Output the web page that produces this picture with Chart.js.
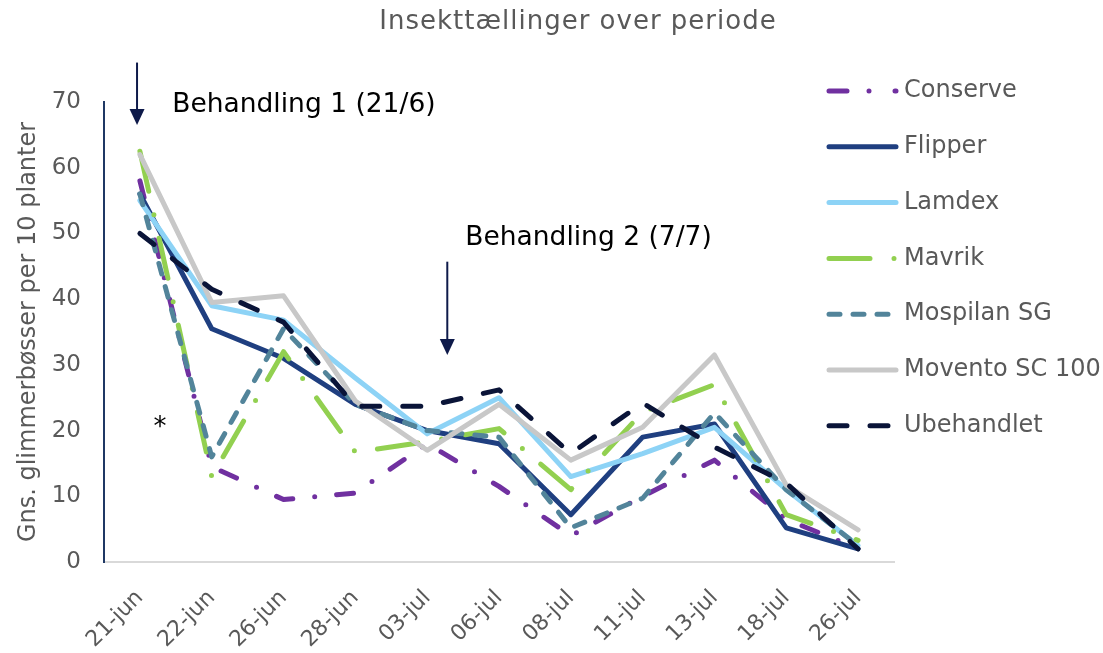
<!DOCTYPE html>
<html>
<head>
<meta charset="utf-8">
<script src="https://cdn.jsdelivr.net/npm/chart.js@4"></script>
<style>
  html, body { margin: 0; padding: 0; background: #fff; }
  #wrap { width: 1103px; height: 653px; position: relative; }
</style>
</head>
<body>
<div id="wrap"><canvas id="insektChart"></canvas></div>
<script>
const labels = ['21-jun', '22-jun', '26-jun', '28-jun', '03-jul', '06-jul', '08-jul', '11-jul', '13-jul', '18-jul', '26-jul'];
const conserve   = [58, 14.5, 9.5, 10.5, 18, 11.5, 4, 10, 15.5, 6.5, 2];
const flipper    = [56, 35.5, 31, 24, 20, 18, 7.2, 19, 21, 5.2, 2];
const lamdex     = [55, 39, 36.8, 28, 19.5, 25, 13, 16.5, 20.5, 11, 2.5];
const mavrik     = [62.5, 13, 32, 16.7, 18.3, 20.3, 11, 22.8, 27, 7.2, 3.3];
const mospilan   = [56, 16, 35.5, 24, 20, 19, 5.2, 9.7, 22.7, 11, 2.5];
const movento    = [62, 39.5, 40.5, 24.5, 17, 24, 15.5, 20.5, 31.5, 11.7, 4.9];
const ubehandlet = [50, 41.5, 36.5, 23.7, 23.7, 26.2, 16.5, 24.2, 17.5, 12, 2];
const yTicks = [0, 10, 20, 30, 40, 50, 60, 70];

const FONT = "'DejaVu Sans', sans-serif";
const GREY = '#595959';

function serie(label, data, color, dash, legendDash) {
    return {
        label: label,
        data: data,
        borderColor: color,
        backgroundColor: color,
        borderWidth: 5,
        borderDash: dash,
        legendDash: legendDash || dash,
        borderCapStyle: 'round',
        borderJoinStyle: 'round',
        pointRadius: 0,
        tension: 0,
        fill: false
    };
}

const datasets = [
    serie('Conserve', conserve, '#7030A0', [17, 22, 0, 22], [18, 22, 0, 26]),
    serie('Flipper', flipper, '#1F3F80', []),
    serie('Lamdex', lamdex, '#8DD3F6', []),
    serie('Mavrik', mavrik, '#92D050', [41, 24, 0, 24]),
    serie('Mospilan SG', mospilan, '#52849A', [11, 13]),
    serie('Movento SC 100', movento, '#C8C8C8', []),
    serie('Ubehandlet', ubehandlet, '#0A1438', [18, 23])
];
// senere serier tegnes øverst
datasets.forEach((d, i) => { d.order = datasets.length - i; });

function arrow(ctx, x, y1, y2) {
    ctx.save();
    ctx.strokeStyle = '#0E1A4A';
    ctx.fillStyle = '#0E1A4A';
    ctx.lineWidth = 2;
    ctx.beginPath();
    ctx.moveTo(x, y1);
    ctx.lineTo(x, y2 - 14);
    ctx.stroke();
    ctx.beginPath();
    ctx.moveTo(x - 7.5, y2 - 16);
    ctx.lineTo(x + 7.5, y2 - 16);
    ctx.lineTo(x, y2);
    ctx.closePath();
    ctx.fill();
    ctx.restore();
}

const overlay = {
    id: 'overlay',
    afterDraw(chart) {
        const ctx = chart.ctx;
        const x = chart.scales.x;
        const y = chart.scales.y;
        ctx.save();

        // titel
        ctx.fillStyle = GREY;
        ctx.font = '26px ' + FONT;
        ctx.letterSpacing = '1px';
        ctx.textAlign = 'center';
        ctx.textBaseline = 'middle';
        ctx.fillText('Insekttællinger over periode', 578, 22);
        ctx.letterSpacing = '0px';

        // behandlinger
        ctx.fillStyle = '#000';
        ctx.textAlign = 'left';
        ctx.font = '26.5px ' + FONT;
        ctx.fillText('Behandling 1 (21/6)', x.getPixelForValue(0.45), y.getPixelForValue(69.5));
        ctx.fillText('Behandling 2 (7/7)', x.getPixelForValue(4.53), y.getPixelForValue(49.3));
        arrow(ctx, x.getPixelForValue(-0.04), y.getPixelForValue(76), y.getPixelForValue(66.5));
        arrow(ctx, x.getPixelForValue(4.28), y.getPixelForValue(45.7), y.getPixelForValue(31.5));
        ctx.font = '26px ' + FONT;
        ctx.textAlign = 'center';
        ctx.fillText('*', x.getPixelForValue(0.28), y.getPixelForValue(20.3));

        // forklaring
        chart.data.datasets.forEach((d, i) => {
            const cy = 91 + i * 55.8;
            ctx.strokeStyle = d.borderColor;
            ctx.lineWidth = d.borderWidth;
            ctx.lineCap = 'round';
            ctx.setLineDash(d.legendDash);
            ctx.beginPath();
            ctx.moveTo(829, cy);
            ctx.lineTo(896, cy);
            ctx.stroke();
            ctx.setLineDash([]);
            ctx.fillStyle = GREY;
            ctx.font = '24px ' + FONT;
            ctx.textAlign = 'left';
            ctx.fillText(d.label, 904, cy);
        });
        ctx.restore();
    }
};

new Chart(document.getElementById('insektChart'), {
    type: 'line',
    data: { labels: labels, datasets: datasets },
    options: {
        responsive: true,
        maintainAspectRatio: false,
        animation: false,
        layout: { padding: { top: 102, right: 209, left: 0, bottom: 0 } },
        scales: {
            x: {
                offset: true,
                grid: { display: false, drawTicks: false },
                border: { color: '#D9D9D9', width: 2 },
                ticks: {
                    color: GREY,
                    font: { family: FONT, size: 22 },
                    maxRotation: 45,
                    minRotation: 45,
                    padding: 23
                },
                afterFit(scale) { scale.height = 91; }
            },
            y: {
                min: 0,
                max: 70,
                afterBuildTicks(scale) { scale.ticks = yTicks.map(v => ({ value: v })); },
                grid: { display: false, drawTicks: false },
                border: { color: '#1F3864', width: 2 },
                ticks: {
                    color: GREY,
                    font: { family: FONT, size: 23 },
                    padding: 23
                },
                title: {
                    display: true,
                    text: 'Gns. glimmerbøsser per 10 planter',
                    color: GREY,
                    font: { family: FONT, size: 24 },
                    padding: { top: 14, bottom: 0 }
                },
                afterFit(scale) { scale.width = 104; }
            }
        },
        plugins: {
            legend: { display: false },
            tooltip: { enabled: false },
            title: { display: false }
        }
    },
    plugins: [overlay]
});
</script>
</body>
</html>
